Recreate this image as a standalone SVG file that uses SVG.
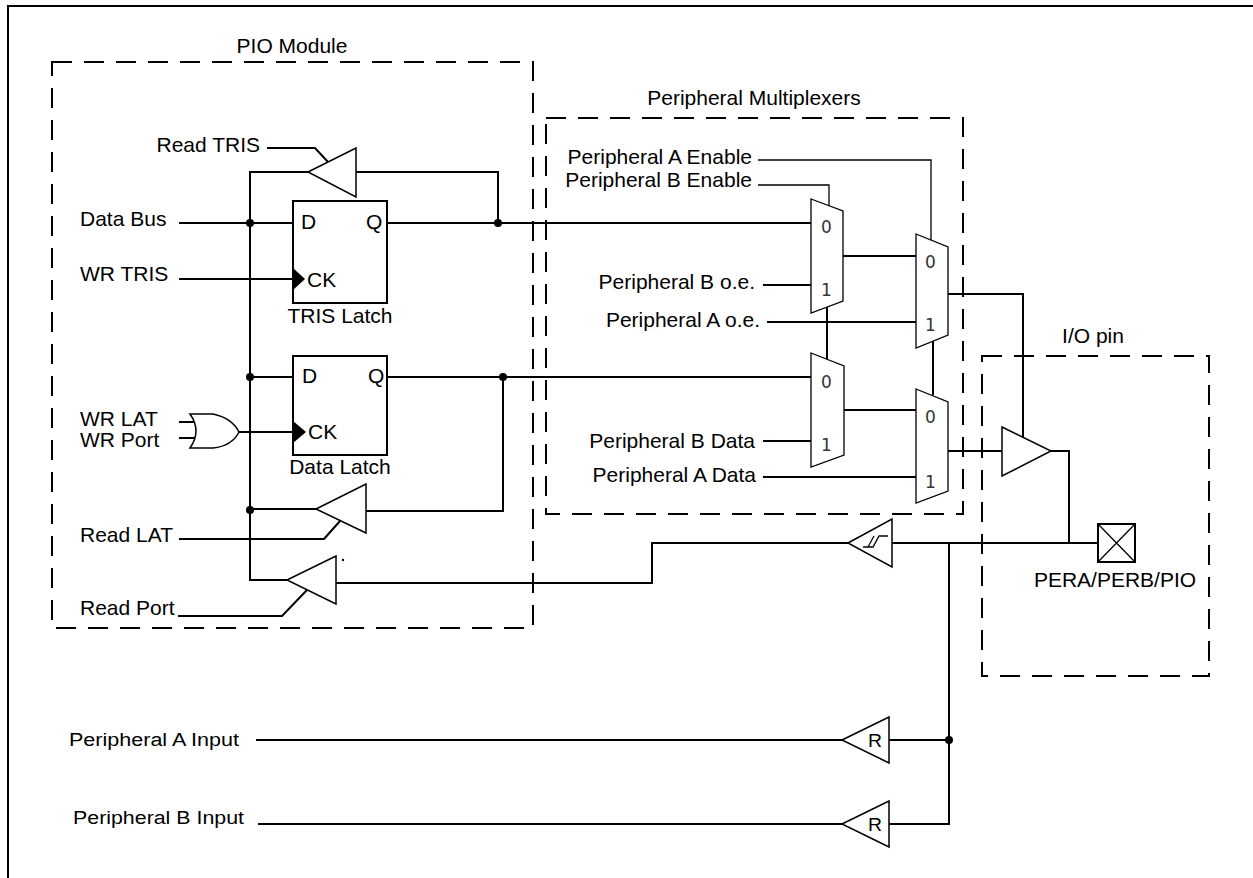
<svg xmlns="http://www.w3.org/2000/svg" width="1253" height="878" viewBox="0 0 1253 878">
<style>
text{font-family:"Liberation Sans",Arial,sans-serif;font-size:21px;fill:#000}
.mono{font-family:"DejaVu Sans",sans-serif;font-size:17px;fill:#333}
.sm{font-size:18px}
.w{stroke:#000;stroke-width:2;fill:none}
.t{stroke:#000;stroke-width:1.3;fill:none}
.g{stroke:#000;stroke-width:1.5;fill:#fff}
.mux{stroke:#000;stroke-width:1.3;fill:#fff}
.dash{stroke:#000;stroke-width:2;fill:none;stroke-dasharray:20 12}
.dot{fill:#000}
</style>
<rect width="1253" height="878" fill="#fff"/>
<g id="frame"><path class="w" d="M8,878 V6 H1253" stroke-width="2.5"/></g>

<g id="pio-module"><rect class="dash" x="52" y="62" width="481" height="566"/><text x="292" y="53" text-anchor="middle">PIO Module</text></g>
<g id="peripheral-multiplexers"><rect class="dash" x="546" y="118" width="417" height="396"/><text x="754" y="105" text-anchor="middle">Peripheral Multiplexers</text></g>
<g id="io-pin"><rect class="dash" x="982" y="356" width="227" height="320"/><text x="1093" y="343" text-anchor="middle">I/O pin</text></g>

<g id="connectors">
<path class="w" d="M179,223 H293"/>
<path class="w" d="M308,172 H250 V580 H287"/>
<path class="w" d="M250,377 H293"/>
<path class="w" d="M316,509 H250"/>
<path class="w" d="M179,279 H293"/>
<path class="w" d="M267,148 H315 L328,162"/>
<path class="w" d="M356,172 H498 V223"/>
<path class="w" d="M387,223 H811"/>
<path class="w" d="M387,377 H811"/>
<path class="w" d="M503,377 V511 H366"/>
<path class="w" d="M179,422 H196 M179,438 H196"/>
<path class="w" d="M239,432 H293"/>
<path class="w" d="M179,539 H324 L340,521"/>
<path class="w" d="M178,616 H282 L307,590"/>
<path class="w" d="M336,583 H652 V543 H848"/>
<path class="t" d="M758,160 H931 V240"/>
<path class="t" d="M758,185 H829 V206"/>
<path class="w" d="M763,285 H811"/>
<path class="w" d="M767,322 H916"/>
<path class="w" d="M843,256 H916"/>
<path class="w" d="M827,307 V359"/>
<path class="w" d="M933,341 V395"/>
<path class="w" d="M844,410 H916"/>
<path class="w" d="M763,441 H811"/>
<path class="w" d="M763,477 H916"/>
<path class="w" d="M948,294 H1023 V437"/>
<path class="w" d="M948,451 H1002"/>
<path class="w" d="M1051,451 H1069 V543"/>
<path class="w" d="M892,543 H1098"/>
<path class="w" d="M949,543 V824 H889"/>
<path class="w" d="M889,740 H949"/>
<path class="w" d="M256,740 H842"/>
<path class="w" d="M258,824 H842"/>
<circle class="dot" cx="250" cy="223" r="4"/>
<circle class="dot" cx="498" cy="223" r="4"/>
<circle class="dot" cx="250" cy="377" r="4"/>
<circle class="dot" cx="503" cy="377" r="4"/>
<circle class="dot" cx="250" cy="510" r="4"/>
<circle class="dot" cx="949" cy="740" r="4"/>
<circle class="dot" cx="343" cy="560" r="1.2"/>
</g>

<g id="labels-left">
<text x="260" y="152" text-anchor="end">Read TRIS</text>
<text x="80" y="226">Data Bus</text>
<text x="80" y="281">WR TRIS</text>
<text x="80" y="426">WR LAT</text>
<text x="80" y="447">WR Port</text>
<text x="80" y="542">Read LAT</text>
<text x="80" y="615">Read Port</text>
</g>

<g id="read-tris-buffer"><polygon class="g" points="308,172 356,148 356,197"/></g>
<g id="tris-latch">
<rect x="293" y="201" width="94" height="102" fill="#fff" stroke="#000" stroke-width="2"/>
<polygon points="293,268 305,279 293,290" fill="#000"/>
<text x="301" y="229">D</text><text x="366" y="229">Q</text><text x="307" y="287">CK</text>
<text x="340" y="323" text-anchor="middle">TRIS Latch</text>
</g>
<g id="or-gate"><path class="g" d="M190,414 H213 Q232,418 239,432 Q232,446 213,448 H190 Q202,431 190,414 Z"/></g>
<g id="data-latch">
<rect x="293" y="356" width="94" height="99" fill="#fff" stroke="#000" stroke-width="2"/>
<polygon points="293,421 306,432 293,443" fill="#000"/>
<text x="302" y="383">D</text><text x="368" y="383">Q</text><text x="308" y="439">CK</text>
<text x="340" y="474" text-anchor="middle">Data Latch</text>
</g>
<g id="read-lat-buffer"><polygon class="g" points="316,509 366,484 366,533"/></g>
<g id="read-port-buffer"><polygon class="g" points="287,580 336,556 336,604"/></g>

<g id="mux-labels">
<text x="752" y="164" text-anchor="end">Peripheral A Enable</text>
<text x="752" y="187" text-anchor="end">Peripheral B Enable</text>
<text x="755" y="289" text-anchor="end">Peripheral B o.e.</text>
<text x="760" y="327" text-anchor="end">Peripheral A o.e.</text>
<text x="755" y="448" text-anchor="end">Peripheral B Data</text>
<text x="756" y="482" text-anchor="end">Peripheral A Data</text>
</g>
<g id="mux-b-oe"><polygon class="mux" points="811,199 843,211 843,301 811,313"/><text class="mono" x="821" y="233">0</text><text class="mono" x="821" y="296">1</text></g>
<g id="mux-a-oe"><polygon class="mux" points="916,234 948,247 948,335 916,348"/><text class="mono" x="925" y="268">0</text><text class="mono" x="925" y="331">1</text></g>
<g id="mux-b-data"><polygon class="mux" points="811,353 844,366 844,455 811,467"/><text class="mono" x="821" y="388">0</text><text class="mono" x="821" y="451">1</text></g>
<g id="mux-a-data"><polygon class="mux" points="916,389 948,402 948,491 916,503"/><text class="mono" x="925" y="423">0</text><text class="mono" x="925" y="488">1</text></g>

<g id="output-driver"><polygon class="g" points="1002,427 1051,451 1002,476"/></g>
<g id="schmitt-buffer"><polygon class="g" points="848,543 892,519 892,567"/><path class="t" d="M863,547 H873 L879,536 H888 M868,547 L874,536"/></g>
<g id="pin"><rect x="1098" y="524" width="37" height="38" fill="#fff" stroke="#000" stroke-width="2"/><path class="t" d="M1098,524 L1135,562 M1135,524 L1098,562"/><text x="1115" y="587" text-anchor="middle">PERA/PERB/PIO</text></g>

<g id="periph-a-input"><text class="sm" x="69" y="746" textLength="170" lengthAdjust="spacingAndGlyphs">Peripheral A Input</text></g>
<g id="periph-b-input"><text class="sm" x="73" y="824" textLength="171" lengthAdjust="spacingAndGlyphs">Peripheral B Input</text></g>
<g id="r-buffer-a"><polygon class="g" points="842,740 889,717 889,763"/><text class="sm" x="875" y="747" text-anchor="middle" textLength="14" lengthAdjust="spacingAndGlyphs">R</text></g>
<g id="r-buffer-b"><polygon class="g" points="842,824 889,801 889,847"/><text class="sm" x="875" y="831" text-anchor="middle" textLength="14" lengthAdjust="spacingAndGlyphs">R</text></g>
</svg>
